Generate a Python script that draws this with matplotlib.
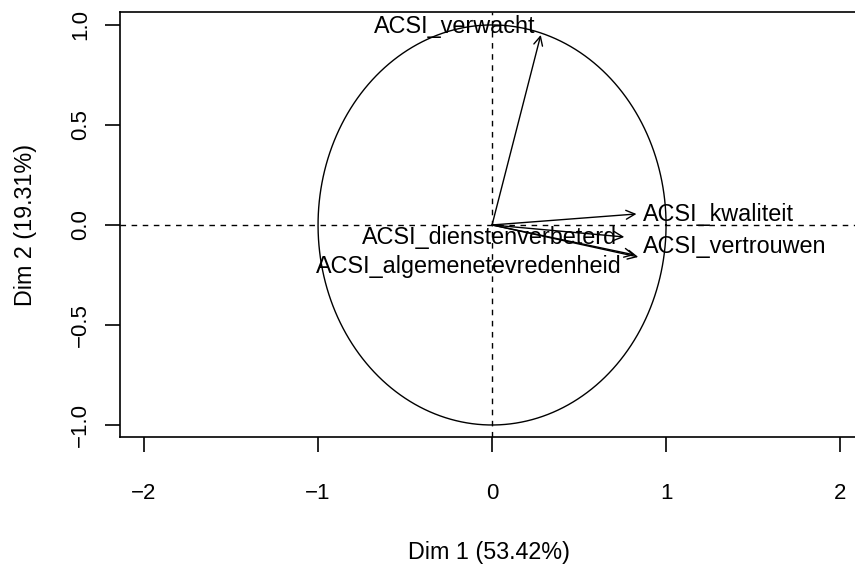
import numpy as np
import matplotlib
matplotlib.use('Agg')
import matplotlib.pyplot as plt

plt.rcParams['font.family'] = ['Liberation Sans', 'DejaVu Sans']

# variable coordinates on Dim 1 / Dim 2
variables = ['ACSI_verwacht', 'ACSI_kwaliteit', 'ACSI_vertrouwen',
             'ACSI_dienstenverbeterd', 'ACSI_algemenetevredenheid']
dim1 = [0.28, 0.83, 0.84, 0.76, 0.82]
dim2 = [0.95, 0.055, -0.16, -0.06, -0.15]

# label anchor positions (as placed in the original)
lab_x = [0.247, 0.868, 0.868, 0.72, 0.745]
lab_y = [0.99, 0.05, -0.11, -0.065, -0.21]
lab_ha = ['right', 'left', 'left', 'right', 'right']

xticks = [-2, -1, 0, 1, 2]
yticks = [-1.0, -0.5, 0.0, 0.5, 1.0]

fig = plt.figure(figsize=(8.55, 5.69), dpi=100)
ax = fig.add_axes([0.1404, 0.232, 0.8702, 0.747])

# unit circle
t = np.linspace(0, 2*np.pi, 400)
ax.plot(np.cos(t), np.sin(t), color='black', lw=1)

ax.axhline(0, color='black', lw=1, ls=(0, (4, 4)))
ax.axvline(0, color='black', lw=1, ls=(0, (4, 4)))

for i in range(len(variables)):
    ax.annotate('', xy=(dim1[i], dim2[i]), xytext=(0, 0),
                arrowprops=dict(arrowstyle='->', lw=1, color='black',
                                shrinkA=0, shrinkB=0, mutation_scale=16))
    ax.text(lab_x[i], lab_y[i], variables[i], ha=lab_ha[i], va='center',
            fontsize=16.8)

ax.set_xlim(-2.138, 2.138)
ax.set_ylim(-1.06, 1.065)
ax.set_xticks(xticks)
ax.set_xticklabels([str(v).replace('-', '\u2212') for v in xticks])
ax.set_yticks(yticks)
ax.set_yticklabels([('%.1f' % v).replace('-', '\u2212') for v in yticks],
                   rotation=90, va='center')
ax.tick_params(direction='out', length=11, width=1.2, labelsize=16)
ax.tick_params(axis='x', pad=22)
ax.tick_params(axis='y', pad=10)

for s in ax.spines.values():
    s.set_linewidth(1.2)

ax.set_xlabel('Dim 1 (53.42%)', fontsize=16.8)
ax.set_ylabel('Dim 2 (19.31%)', fontsize=16.8)
ax.xaxis.set_label_coords(0.4962, -0.245)
ax.yaxis.set_label_coords(-0.1116, 0.5)

fig.savefig('out.png', dpi=100)
